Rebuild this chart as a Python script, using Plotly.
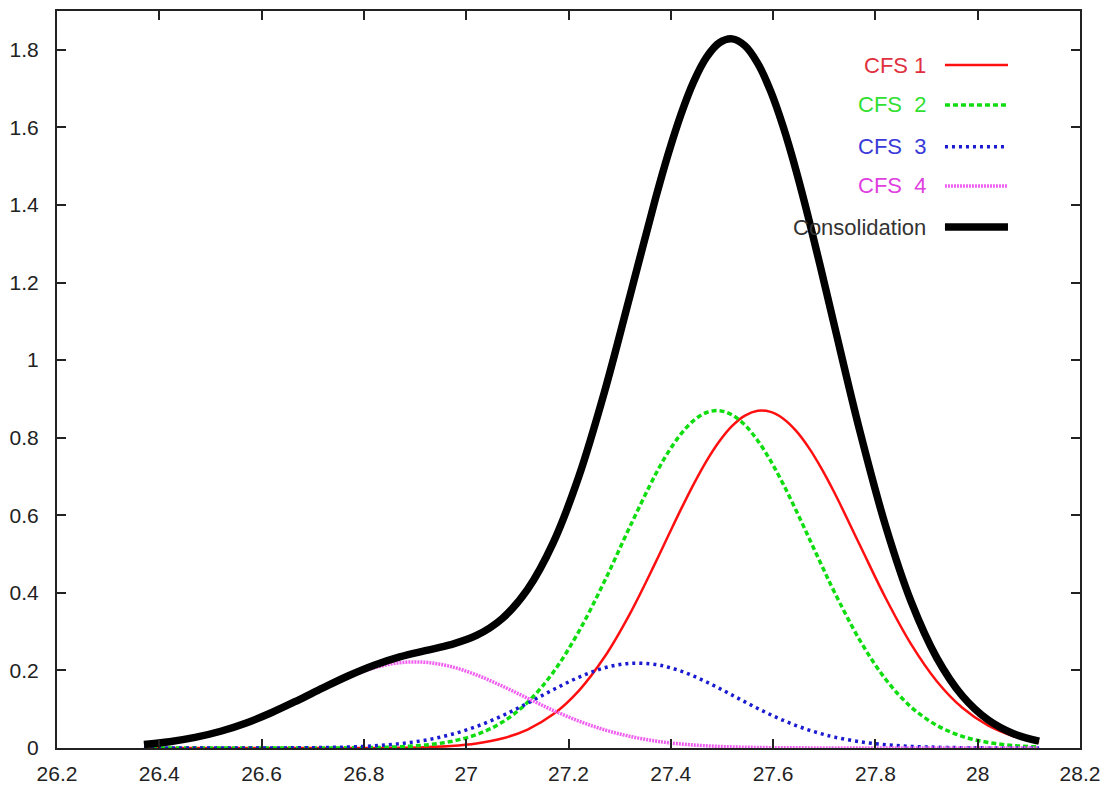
import plotly.graph_objects as go

# x positions (read along the horizontal axis; denser around the peaks)
x_vals = [26.37, 26.42, 26.47, 26.52, 26.57, 26.62, 26.67, 26.72, 26.77, 26.82,
          26.87, 26.92, 26.97, 27.02, 27.07, 27.12, 27.17, 27.22, 27.27, 27.32,
          27.37, 27.395, 27.42, 27.445, 27.47, 27.495, 27.52, 27.545, 27.57, 27.595,
          27.62, 27.645, 27.67, 27.695, 27.72, 27.77, 27.82,
          27.87, 27.92, 27.97, 28.02, 28.07, 28.12]

cfs1 = [0.0, 0.0, 0.0, 0.0, 0.0, 0.0, 0.0, 0.0, 0.0, 0.0,
        0.0008, 0.0022, 0.0052, 0.0117, 0.0244, 0.0476, 0.0867, 0.1474, 0.2338, 0.3460,
        0.4779, 0.5471, 0.6157, 0.6810, 0.7403, 0.7908, 0.8304, 0.8570, 0.8692, 0.8665,
        0.8490, 0.8175, 0.7738, 0.7197, 0.6580, 0.5221, 0.3866,
        0.2671, 0.1722, 0.1036, 0.0581, 0.0304, 0.0149]

cfs2 = [0.0, 0.0, 0.0, 0.0, 0.0, 0.0, 0.0, 0.0, 0.0004, 0.0012,
        0.0032, 0.0076, 0.0167, 0.0345, 0.0661, 0.1177, 0.1949, 0.2999, 0.4290, 0.5705,
        0.7050, 0.7626, 0.8099, 0.8447, 0.8649, 0.8697, 0.8586, 0.8324, 0.7923, 0.7406,
        0.6797, 0.6125, 0.5419, 0.4708, 0.4017, 0.2768, 0.1773,
        0.1054, 0.0584, 0.0300, 0.0144, 0.0064, 0.0026]

cfs3 = [0.0, 0.0, 0.0, 0.0, 0.0, 0.0002, 0.0005, 0.0012, 0.0026, 0.0056,
        0.0110, 0.0202, 0.0346, 0.0554, 0.0828, 0.1155, 0.1502, 0.1823, 0.2066, 0.2183,
        0.2153, 0.2083, 0.1981, 0.1852, 0.1701, 0.1536, 0.1363, 0.1189, 0.1019, 0.0859,
        0.0711, 0.0579, 0.0463, 0.0364, 0.0281, 0.0159, 0.0084,
        0.0042, 0.0019, 0.0008, 0.0003, 0.0001, 0.0]

cfs4 = [0.0092, 0.0163, 0.0273, 0.0432, 0.0646, 0.0913, 0.1219, 0.1538, 0.1833, 0.2065,
        0.2198, 0.2210, 0.2100, 0.1885, 0.1600, 0.1283, 0.0971, 0.0695, 0.0470, 0.0300,
        0.0181, 0.0138, 0.0103, 0.0077, 0.0056, 0.0040, 0.0028, 0.0020, 0.0014, 0.0009,
        0.0006, 0.0004, 0.0003, 0.0002, 0.0001, 0.0, 0.0,
        0.0, 0.0, 0.0, 0.0, 0.0, 0.0]

consolidation = [0.0092, 0.0163, 0.0273, 0.0432, 0.0646, 0.0915, 0.1224, 0.1550, 0.1863, 0.2133,
                 0.2348, 0.2510, 0.2665, 0.2901, 0.3333, 0.4091, 0.5289, 0.6991, 0.9164, 1.1648,
                 1.4163, 1.5318, 1.6340, 1.7186, 1.7809, 1.8181, 1.8281, 1.8103, 1.7648, 1.6939,
                 1.6004, 1.4883, 1.3623, 1.2271, 1.0879, 0.8148, 0.5723,
                 0.3767, 0.2325, 0.1344, 0.0728, 0.0369, 0.0175]

series_names = ["CFS 1", "CFS  2", "CFS  3", "CFS  4", "Consolidation"]

x_tick_vals = [26.2, 26.4, 26.6, 26.8, 27.0, 27.2, 27.4, 27.6, 27.8, 28.0, 28.2]
x_tick_text = ["26.2", "26.4", "26.6", "26.8", "27", "27.2", "27.4", "27.6", "27.8", "28", "28.2"]
y_tick_vals = [0, 0.2, 0.4, 0.6, 0.8, 1.0, 1.2, 1.4, 1.6, 1.8]
y_tick_text = ["0", "0.2", "0.4", "0.6", "0.8", "1", "1.2", "1.4", "1.6", "1.8"]

FONT = "Liberation Sans, Arial, Helvetica, sans-serif"

styles = [
    dict(color="#ff1010", width=2.5, dash="solid", text="#e03040"),
    dict(color="#10dd10", width=3.5, dash="5px,3px", text="#30e030"),
    dict(color="#1a1ad0", width=3.5, dash="3px,4px", text="#3a3ad8"),
    dict(color="#f060f0", width=3.5, dash="2px,1px", text="#e040e0"),
    dict(color="#000000", width=7.5, dash="solid", text="#333333"),
]
data_series = [cfs1, cfs2, cfs3, cfs4, consolidation]

fig = go.Figure()
for name, ys, st in zip(series_names, data_series, styles):
    fig.add_trace(go.Scatter(
        x=x_vals, y=ys, mode="lines", name=name,
        line=dict(color=st["color"], width=st["width"], dash=st["dash"], shape="spline", smoothing=1.0),
        showlegend=False,
    ))

# gnuplot-style key: text right-aligned, line sample to its right
legend_y = [0.9267, 0.8725, 0.8159, 0.7626, 0.7069]
for name, st, ly in zip(series_names, styles, legend_y):
    fig.add_annotation(
        xref="paper", yref="paper", x=0.8514, y=ly, text=name, showarrow=False,
        xanchor="right", yanchor="middle",
        font=dict(family=FONT, size=22, color=st["text"]),
    )
    fig.add_shape(
        type="line", xref="paper", yref="paper", x0=0.868, x1=0.9296, y0=ly, y1=ly,
        line=dict(color=st["color"], width=st["width"], dash=st["dash"]),
    )

axis_common = dict(
    showline=True, linecolor="#222222", linewidth=2, mirror="allticks",
    ticks="inside", ticklen=9, tickwidth=1.5, tickcolor="#222222",
    showgrid=False, zeroline=False, automargin=False,
    tickfont=dict(family=FONT, size=21, color="#222222"),
)

# page body has an 8px margin, so the figure is sized/margined to land the
# plot frame at the reference's pixel position
fig.update_layout(
    width=1111, height=777,
    margin=dict(l=49, r=39, t=3, b=37, pad=0),
    paper_bgcolor="white", plot_bgcolor="white",
    xaxis=dict(range=[26.2, 28.2], tickvals=x_tick_vals, ticktext=x_tick_text,
               ticklabelstandoff=6, **axis_common),
    yaxis=dict(range=[0, 1.9], tickvals=y_tick_vals, ticktext=y_tick_text,
               ticklabelstandoff=12, **axis_common),
)

fig.write_html("out.html")
